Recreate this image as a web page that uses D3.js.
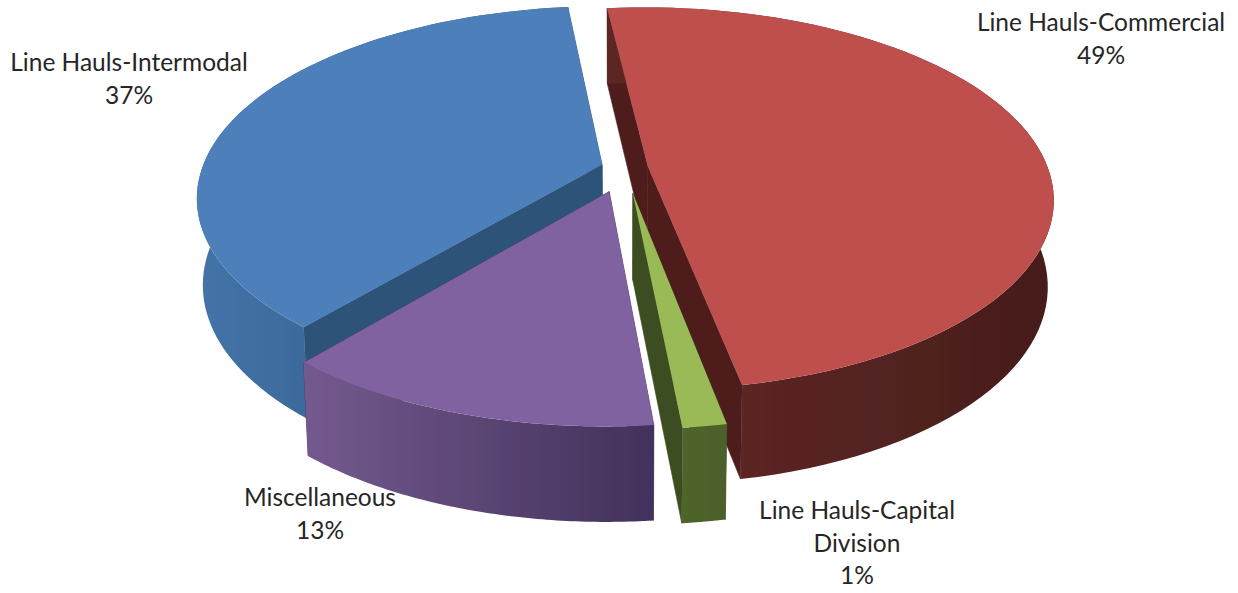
<!DOCTYPE html>
<html><head><meta charset="utf-8">
<script src="https://cdn.jsdelivr.net/npm/d3@7/dist/d3.min.js"></script>
<style>html,body{margin:0;padding:0;background:#fff;overflow:hidden}text{font-family:Lato,sans-serif;font-size:24.5px;fill:#262626}</style>
</head><body><svg id="c" width="1238" height="593"></svg>
<script>
const categories=["Line Hauls-Commercial","Line Hauls-Capital Division","Miscellaneous","Line Hauls-Intermodal"];
const values=[48.75,1.45,12.7,37.1];
const percentLabels=["49%","1%","13%","37%"];
const labelLines=[["Line Hauls-Commercial"],["Line Hauls-Capital","Division"],["Miscellaneous"],["Line Hauls-Intermodal"]];
const labelAnchors=[[1101,31],[857,519],[320,506],[129,71]];
const topColors=["#be504d","#9aba59","#8062a0","#4d7fbb"];
const wallStops=[["#5c2523","#471d1c"],["#4f652c","#4b5f29"],["#745a8e","#41315a"],["#4474a8","#3d6a9c"]];
const innerColors=["#4f1f1e","#3e4d22","#4a3866","#2f5278"];
const explode=[0.058,0.135,0.13,0.06];
const cx=625,cy=168,R=400,A=186.3,K=0.1686,D=85;
const svg=d3.select("#c"),defs=svg.append("defs");
const deg=Math.PI/180;
const pie=d3.pie().sort(null).startAngle(-6.3*deg).endAngle(353.7*deg);
const arcs=pie(values);
const line=d3.line();
defs.append("filter").attr("id","soft").append("feGaussianBlur").attr("stdDeviation",0.45);
function proj(X,Y,Z){
  const s=1/(1-K*Y);
  const x=cx+R*X*s*(1-0.014*Z);
  const y=cy+A*Y*s+Z*D*(1+0.11*Y);
  return [x,y];
}
function pt(i,a,r,Z){
  const m=(arcs[i].startAngle+arcs[i].endAngle)/2,e=explode[i];
  return proj(r*Math.sin(a)+e*Math.sin(m),-r*Math.cos(a)-e*Math.cos(m),Z);
}
function arcPts(i,Z){return d3.range(0,81).map(k=>{
  const a=arcs[i].startAngle+(arcs[i].endAngle-arcs[i].startAngle)*k/80;return pt(i,a,1,Z);});}
const root=svg.append("g").attr("filter","url(#soft)");
const drawOrder=[3,0,2,1];
drawOrder.forEach(i=>{
  const d=arcs[i],g=root.append("g");
  const topA=arcPts(i,0),botA=arcPts(i,1);
  [d.startAngle,d.endAngle].forEach(a=>{
    const poly=[pt(i,a,0,0),pt(i,a,1,0),pt(i,a,1,1),pt(i,a,0,1)];
    g.append("path").attr("d",line(poly)+"Z").attr("fill",innerColors[i]).attr("stroke",innerColors[i]).attr("stroke-width",0.6);
  });
  const xs=topA.map(p=>p[0]).filter((v,k)=>topA[k][1]>cy);
  const xr=d3.extent(xs.length?xs:topA.map(p=>p[0]));
  const gid="w"+i;
  const lg=defs.append("linearGradient").attr("id",gid).attr("gradientUnits","userSpaceOnUse")
    .attr("x1",xr[0]).attr("x2",xr[1]).attr("y1",0).attr("y2",0);
  wallStops[i].forEach((c,k)=>lg.append("stop").attr("offset",k).attr("stop-color",c));
  g.append("path").attr("d",line(topA.concat(botA.slice().reverse()))+"Z").attr("fill",`url(#${gid})`);
  g.append("path").attr("d",line([pt(i,0,0,0)].concat(topA))+"Z").attr("fill",topColors[i]);
});
labelLines.forEach((ls,i)=>{
  const t=svg.append("text").attr("text-anchor","middle");
  ls.concat([percentLabels[i]]).forEach((s,k)=>t.append("tspan").attr("x",labelAnchors[i][0]).attr("y",labelAnchors[i][1]+k*32.5).text(s));
});
</script></body></html>
